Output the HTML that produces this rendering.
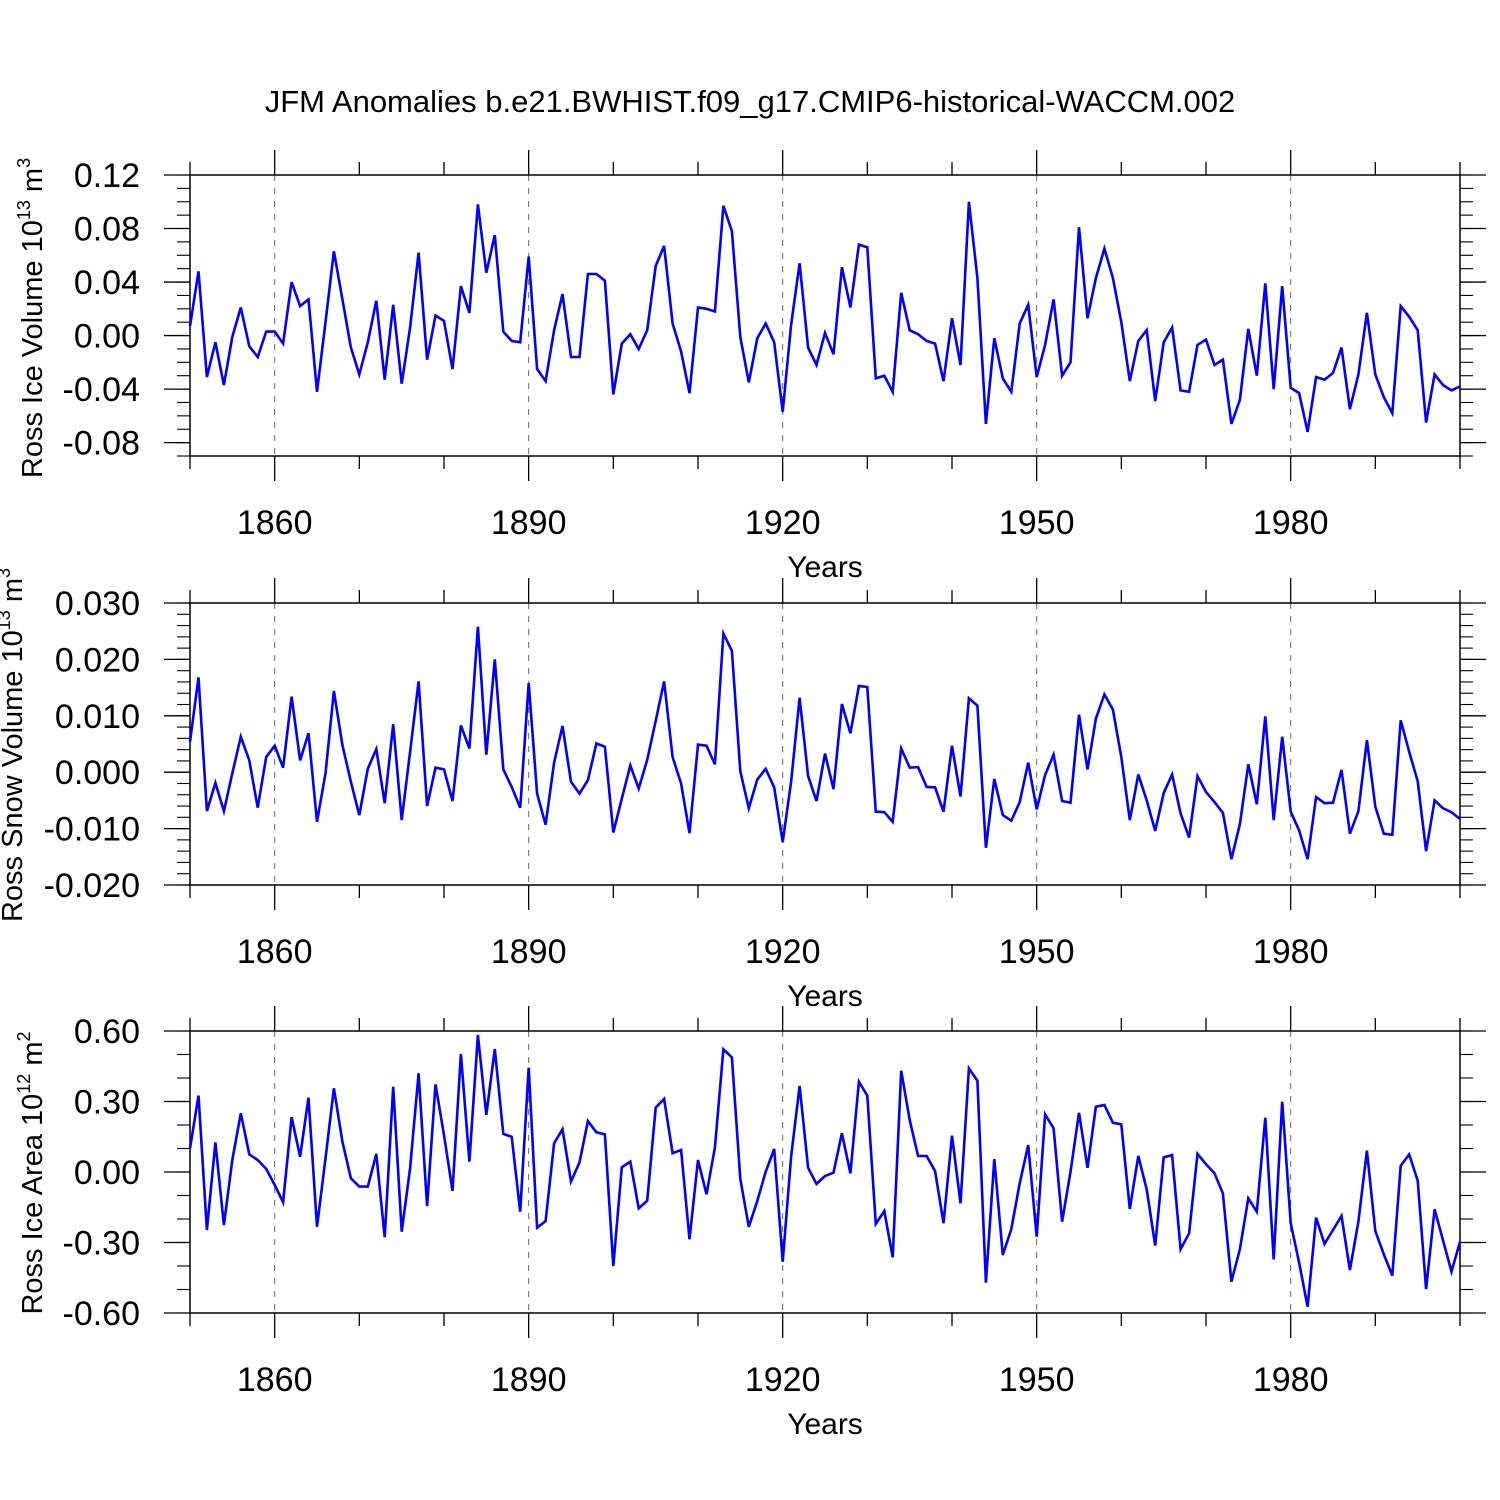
<!DOCTYPE html>
<html><head><meta charset="utf-8">
<style>
html,body{margin:0;padding:0;background:#fff;}
svg{display:block;font-family:"Liberation Sans",Arial,sans-serif;}
</style></head>
<body>
<svg id="chart" width="1500" height="1500" viewBox="0 0 1500 1500" xmlns="http://www.w3.org/2000/svg">
<rect width="1500" height="1500" fill="#fff"/>
<text x="750" y="112" font-size="31" text-anchor="middle">JFM Anomalies b.e21.BWHIST.f09_g17.CMIP6-historical-WACCM.002</text>
</svg>
<script>
const startYear = 1850;
const xTickYears = [1860, 1890, 1920, 1950, 1980];
const iceVolume = [
0.007,0.048,-0.031,-0.005,-0.037,-0.001,0.021,-0.008,-0.016,0.003,
0.003,-0.006,0.040,0.022,0.027,-0.042,0.010,0.063,0.027,-0.009,
-0.029,-0.005,0.026,-0.033,0.023,-0.036,0.006,0.062,-0.018,0.015,
0.011,-0.025,0.037,0.017,0.098,0.047,0.075,0.003,-0.004,-0.005,
0.059,-0.025,-0.034,0.004,0.031,-0.016,-0.016,0.046,0.046,0.041,
-0.044,-0.006,0.001,-0.010,0.004,0.052,0.067,0.009,-0.012,-0.043,
0.021,0.020,0.018,0.097,0.078,-0.001,-0.035,-0.002,0.009,-0.005,
-0.057,0.008,0.054,-0.009,-0.022,0.002,-0.014,0.051,0.021,0.068,
0.066,-0.032,-0.030,-0.042,0.032,0.004,0.001,-0.004,-0.006,-0.034,
0.013,-0.022,0.100,0.043,-0.066,-0.002,-0.032,-0.042,0.009,0.023,
-0.031,-0.007,0.027,-0.030,-0.020,0.081,0.013,0.043,0.065,0.043,
0.010,-0.034,-0.004,0.004,-0.049,-0.005,0.006,-0.041,-0.042,-0.007,
-0.003,-0.022,-0.018,-0.066,-0.048,0.005,-0.030,0.039,-0.040,0.037,
-0.039,-0.043,-0.072,-0.031,-0.033,-0.028,-0.009,-0.055,-0.029,0.017,
-0.029,-0.046,-0.058,0.022,0.014,0.004,-0.065,-0.029,-0.037,-0.041,
-0.038];
const snowVolume = [
0.0054,0.0168,-0.0069,-0.0019,-0.0069,-0.0002,0.0063,0.0021,-0.0063,0.0027,
0.0047,0.0008,0.0134,0.0021,0.0069,-0.0088,-0.0002,0.0144,0.0048,-0.0017,
-0.0076,0.0006,0.0041,-0.0055,0.0085,-0.0085,0.0036,0.0161,-0.0060,0.0008,
0.0005,-0.0051,0.0083,0.0042,0.0258,0.0031,0.0200,0.0005,-0.0026,-0.0063,
0.0158,-0.0038,-0.0093,0.0017,0.0082,-0.0017,-0.0038,-0.0014,0.0051,0.0045,
-0.0107,-0.0047,0.0012,-0.0029,0.0022,0.0091,0.0161,0.0027,-0.0020,-0.0108,
0.0049,0.0047,0.0014,0.0246,0.0215,0.0002,-0.0064,-0.0013,0.0006,-0.0027,
-0.0124,-0.0017,0.0132,-0.0007,-0.0051,0.0033,-0.0030,0.0121,0.0069,0.0153,
0.0151,-0.0070,-0.0071,-0.0088,0.0042,0.0008,0.0009,-0.0026,-0.0027,-0.0070,
0.0047,-0.0043,0.0131,0.0118,-0.0134,-0.0012,-0.0076,-0.0086,-0.0053,0.0017,
-0.0066,-0.0005,0.0031,-0.0051,-0.0054,0.0102,0.0005,0.0095,0.0138,0.0111,
0.0027,-0.0085,-0.0004,-0.0050,-0.0104,-0.0037,-0.0004,-0.0073,-0.0116,-0.0007,
-0.0035,-0.0053,-0.0072,-0.0154,-0.0092,0.0014,-0.0057,0.0099,-0.0085,0.0063,
-0.0070,-0.0103,-0.0154,-0.0044,-0.0055,-0.0054,0.0004,-0.0109,-0.0069,0.0057,
-0.0061,-0.0109,-0.0111,0.0092,0.0036,-0.0016,-0.0140,-0.0050,-0.0064,-0.0071,
-0.0083];
const iceArea = [
0.100,0.325,-0.247,0.126,-0.226,0.051,0.250,0.075,0.051,0.013,
-0.055,-0.129,0.233,0.065,0.316,-0.233,0.058,0.356,0.129,-0.027,
-0.062,-0.062,0.077,-0.278,0.363,-0.254,0.016,0.420,-0.145,0.373,
0.157,-0.080,0.502,0.044,0.583,0.243,0.523,0.162,0.150,-0.169,
0.444,-0.237,-0.209,0.122,0.182,-0.041,0.041,0.217,0.169,0.160,
-0.400,0.020,0.044,-0.155,-0.122,0.274,0.311,0.080,0.094,-0.286,
0.051,-0.095,0.104,0.522,0.488,-0.030,-0.233,-0.123,0.001,0.098,
-0.382,0.065,0.366,0.018,-0.051,-0.017,-0.003,0.165,-0.006,0.384,
0.325,-0.221,-0.166,-0.363,0.431,0.221,0.068,0.068,0.004,-0.218,
0.155,-0.133,0.441,0.389,-0.471,0.055,-0.353,-0.243,-0.048,0.115,
-0.275,0.245,0.186,-0.211,0.001,0.252,0.018,0.278,0.285,0.210,
0.203,-0.157,0.068,-0.074,-0.313,0.062,0.072,-0.329,-0.261,0.077,
0.033,-0.006,-0.091,-0.467,-0.328,-0.112,-0.169,0.231,-0.372,0.299,
-0.218,-0.385,-0.573,-0.194,-0.306,-0.247,-0.187,-0.417,-0.211,0.091,
-0.251,-0.350,-0.441,0.027,0.075,-0.037,-0.498,-0.159,-0.292,-0.424,
-0.297];
const p1Ticks = [0.12,0.08,0.04,0.00,-0.04,-0.08];
const p1Labels = ["0.12","0.08","0.04","0.00","-0.04","-0.08"];
const p2Ticks = [0.03,0.02,0.01,0.0,-0.01,-0.02];
const p2Labels = ["0.030","0.020","0.010","0.000","-0.010","-0.020"];
const p3Ticks = [0.6,0.3,0.0,-0.3,-0.6];
const p3Labels = ["0.60","0.30","0.00","-0.30","-0.60"];

const NS = "http://www.w3.org/2000/svg";
const svg = document.getElementById("chart");
const X0 = 190, X1 = 1460, Y0 = 1850, Y1 = 2000;
function xs(yr){ return X0 + (yr - Y0) * (X1 - X0) / (Y1 - Y0); }
function mk(tag, attrs, parent){
  const e = document.createElementNS(NS, tag);
  for (const k in attrs) e.setAttribute(k, attrs[k]);
  (parent || svg).appendChild(e);
  return e;
}

function panel(cfg){
  const g = mk("g", {});
  
  
  const ys = v => cfg.top + (cfg.vmax - v) * (cfg.bot - cfg.top) / (cfg.vmax - cfg.vmin);
  xTickYears.forEach(yr => {
    const l = mk("line", {x1: xs(yr), x2: xs(yr), y1: cfg.top, y2: cfg.bot, stroke: "#666", "stroke-width": 1, "stroke-dasharray": "6,7"}, g);
    
    
  });
  for (let yr = 1850; yr <= 2000; yr += 10) {
    const major = xTickYears.indexOf(yr) >= 0;
    const len = major ? 25 : 13;
    mk("line", {x1: xs(yr), x2: xs(yr), y1: cfg.top - len, y2: cfg.top, stroke: "#000", "stroke-width": 1.3}, g);
    mk("line", {x1: xs(yr), x2: xs(yr), y1: cfg.bot, y2: cfg.bot + len, stroke: "#000", "stroke-width": 1.3}, g);
  }
  xTickYears.forEach(yr => {
    const t = mk("text", {x: xs(yr), y: cfg.bot + 78, "font-size": 34, "text-anchor": "middle"}, g);
    
    
    t.textContent = yr;
  });
  const n = Math.round((cfg.vmax - cfg.vmin) / cfg.minor);
  for (let i = 0; i <= n; i++) {
    const v = cfg.vmin + i * cfg.minor;
    const y = ys(v);
    mk("line", {x1: X0 - 13, x2: X0, y1: y, y2: y, stroke: "#000", "stroke-width": 1.1}, g);
    mk("line", {x1: X1, x2: X1 + 13, y1: y, y2: y, stroke: "#000", "stroke-width": 1.1}, g);
  }
  cfg.ticks.forEach((v, i) => {
    const y = ys(v);
    mk("line", {x1: X0 - 26, x2: X0, y1: y, y2: y, stroke: "#000", "stroke-width": 1.3}, g);
    mk("line", {x1: X1, x2: X1 + 26, y1: y, y2: y, stroke: "#000", "stroke-width": 1.3}, g);
    const t = mk("text", {x: 140, y: y + 12, "font-size": 34, "text-anchor": "end"}, g);
    
    
    t.textContent = cfg.labels[i];
  });
  const f = mk("rect", {x: X0, y: cfg.top, width: X1 - X0, height: cfg.bot - cfg.top, fill: "none", stroke: "#000", "stroke-width": 1.5}, g);
  
  
  const pts = cfg.data.map((v, i) => xs(startYear + i).toFixed(1) + "," + ys(v).toFixed(1)).join(" ");
  const pl = mk("polyline", {points: pts, fill: "none", stroke: "#0000ff", "stroke-width": 2.6, "stroke-linejoin": "miter"}, g);
  
  
  const xt = mk("text", {x: 825, y: cfg.bot + 121, "font-size": 30, "text-anchor": "middle"}, g);
  
  
  xt.textContent = "Years";
  const yt = mk("text", {x: 0, y: 0, "font-size": 29, "text-anchor": "middle", transform: "translate(" + cfg.ytx + "," + cfg.ytY + ") rotate(-90)"}, g);
  
  
  yt.innerHTML = cfg.ytitle;
}

panel({name: "ice-volume-panel", top: 175, bot: 456, vmax: 0.12, vmin: -0.09, minor: 0.01,
  ticks: p1Ticks, labels: p1Labels, data: iceVolume, ytx: 42, ytY: 318,
  ytitle: 'Ross Ice Volume 10<tspan font-size="18" dy="-12">13</tspan><tspan dy="12"> m</tspan><tspan font-size="18" dy="-12">3</tspan>'});
panel({name: "snow-volume-panel", top: 603, bot: 885, vmax: 0.03, vmin: -0.02, minor: 0.002,
  ticks: p2Ticks, labels: p2Labels, data: snowVolume, ytx: 22, ytY: 745,
  ytitle: 'Ross Snow Volume 10<tspan font-size="18" dy="-12">13</tspan><tspan dy="12"> m</tspan><tspan font-size="18" dy="-12">3</tspan>'});
panel({name: "ice-area-panel", top: 1031, bot: 1313, vmax: 0.6, vmin: -0.6, minor: 0.1,
  ticks: p3Ticks, labels: p3Labels, data: iceArea, ytx: 42, ytY: 1173,
  ytitle: 'Ross Ice Area 10<tspan font-size="18" dy="-12">12</tspan><tspan dy="12"> m</tspan><tspan font-size="18" dy="-12">2</tspan>'});
</script>
</body></html>
